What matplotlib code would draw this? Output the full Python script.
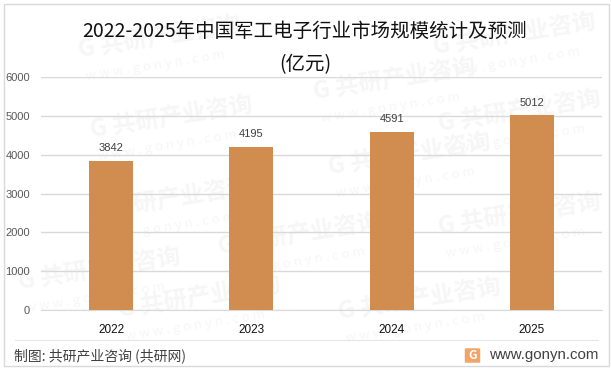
import matplotlib
matplotlib.use("Agg")
import matplotlib.pyplot as plt
from matplotlib.lines import Line2D
from matplotlib.patches import FancyBboxPatch, Rectangle

plt.rcParams['font.family'] = ['Noto Sans CJK SC', 'DejaVu Sans']

W, H = 611, 370

years = ['2022', '2023', '2024', '2025']
values = [3842, 4195, 4591, 5012]
yticks = [0, 1000, 2000, 3000, 4000, 5000, 6000]

title_lines = ['2022-2025年中国军工电子行业市场规模统计及预测', '(亿元)']
source = '制图: 共研产业咨询 (共研网)'
site = 'www.gonyn.com'

# watermark centres in pixels, measured on the picture
mark_x = [160, 172, 395, 515, 410, 520, 170, 300, 520, 100, 200, 420]
mark_y = [38, 118, 80, 35, 155, 112, 200, 235, 215, 270, 298, 300]


def px(x, y):
    return x / W, 1 - y / H


fig = plt.figure(figsize=(W / 100, H / 100), dpi=100)

# watermarks sit behind the chart
for mx, my in zip(mark_x, mark_y):
    x, y = px(mx, my)
    fig.text(x, y, 'G 共研产业咨询', fontsize=17, fontweight='bold', color='#f6f6f6',
             rotation=9, ha='center', va='center', zorder=-2)
    x, y = px(mx - 5, my + 28)
    fig.text(x, y, 'w w w . g o n y n . c o m', fontsize=9.5, color='#f6f6f6',
             rotation=9, ha='center', va='center', zorder=-2)

# outer frame and footer rule
fig.add_artist(Rectangle(px(3.5, 365.5), 605 / W, 362 / H, fill=False,
                         edgecolor='#d9d9d9', linewidth=1))
fig.add_artist(Line2D([15 / W, 598 / W], [1 - 339.5 / H] * 2, color='#e6e6e6', linewidth=0.8))

ax = fig.add_axes([41 / W, 1 - 310 / H, 561 / W, 233 / H])
ax.patch.set_alpha(0)
ax.bar(years, values, width=0.315, color='#d18d4f', zorder=3)
ax.set_xlim(-0.5, 3.5)
ax.set_ylim(0, 6000)
ax.set_yticks(yticks)
ax.grid(axis='y', color='#d9d9d9', linewidth=1, zorder=1)
ax.tick_params(axis='both', length=0)
ax.tick_params(axis='y', labelsize=8, labelcolor='#595959', pad=8)
ax.tick_params(axis='x', labelsize=8.5, labelcolor='#111111', pad=10)
for tick in ax.get_xticklabels() + ax.get_yticklabels():
    tick.set_fontfamily(['Liberation Sans'])
for name in ['top', 'right', 'left']:
    ax.spines[name].set_visible(False)
ax.spines['bottom'].set_color('#d9d9d9')

for i, v in enumerate(values):
    ax.annotate(str(v), (i, v), xytext=(0, 5.5), textcoords='offset points', ha='center',
                va='bottom', fontsize=8, color='#404040', family=['Liberation Sans'])

x, y = px(305, 31)
fig.text(x, y, title_lines[0], fontsize=14, color='#111111', ha='center', va='center')
x, y = px(305, 65)
fig.text(x, y, title_lines[1], fontsize=14, color='#111111', ha='center', va='center')

x, y = px(14, 356)
fig.text(x, y, source, fontsize=10, color='#404040', ha='left', va='center')
x, y = px(598, 355)
fig.text(x, y, site, fontsize=10.8, color='#404040', ha='right', va='center',
         family=['Liberation Sans'])

# small logo next to the address
fig.add_artist(FancyBboxPatch(px(466, 362), 13 / W, 13 / H, boxstyle='round,pad=0.002',
                              facecolor='#f2a468', edgecolor='none'))
x, y = px(472.5, 355.5)
fig.text(x, y, 'G', fontsize=8.5, fontweight='bold', color='white', ha='center', va='center')

fig.savefig('out.png', dpi=100)
